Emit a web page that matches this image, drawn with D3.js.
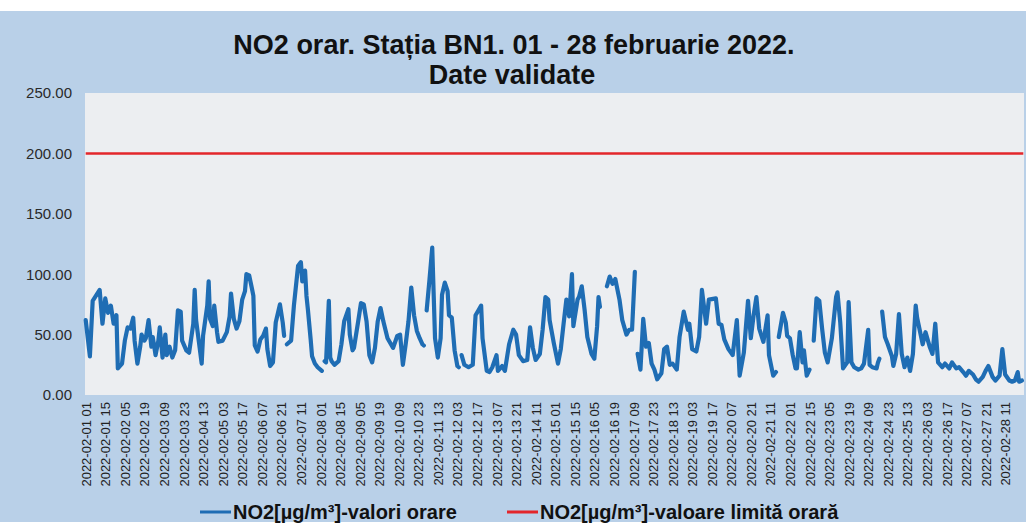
<!DOCTYPE html>
<html>
<head>
<meta charset="utf-8">
<script src="https://cdn.jsdelivr.net/npm/d3@7/dist/d3.min.js"></script>
<style>
  body { margin: 0; background: #ffffff; }
  text { font-family: "Liberation Sans", Arial, sans-serif; }
</style>
</head>
<body>
<div id="chart"></div>
<script>
// hour offsets from 2022-02-01 01:00 and hourly NO2 values (null = missing hour)
var hourIdx = [
  0,3,5,10,12,14,16,18,20,22,23,26,28,30,32,34,35,37,39,40,42,43,45,47,48,50,52,53,55,57,58,60,62,64,66,68,69,72,74,77,78,79,
  81,83,84,87,88,89,91,92,94,95,98,101,103,104,106,108,110,112,114,115,117,119,120,121,123,125,127,129,130,132,134,136,139,141,
  142,143,144,147,149,152,154,155,157,158,159,161,162,164,166,169,170,171,172,174,175,176,178,181,183,185,188,189,191,192,195,
  197,199,201,203,205,207,209,211,213,216,220,223,225,227,229,231,233,235,237,239,241,242,243,244,246,248,250,252,254,255,257,
  259,260,262,264,266,267,268,269,271,274,277,279,281,283,284,287,289,291,294,295,298,300,303,306,308,310,313,316,318,320,322,
  325,327,329,331,332,335,338,340,342,344,346,348,349,352,353,355,357,359,362,364,366,367,368,370,373,375,377,379,382,384,387,
  389,391,393,394,395,397,399,401,403,405,407,409,412,414,416,418,420,423,425,428,431,432,434,437,439,441,444,446,451,453,455,
  457,460,463,466,468,471,474,476,478,480,482,485,488,489,492,494,495,496,499,501,502,504,506,508,509,511,513,514,516,518,519,
  521,523,525,527,529,531,534,537,538,540,542,545,546,548,550,553,555,557,560,561,563,566,567,568,569,570,572,574,577,578,580,
  582,584,586,588,590,592,594,595,597,599,601,604,606,608,610,613,615,618,620,623,625,628,630,632,635,637,639,642,644,646,649,
  651,654,656,658,661,663,665,667,668,670
];
var no2Values = [
  62,32,78,87,59,80,68,74,59,66,22,26,45,56,55,64,45,26,40,50,45,47,62,40,48,33,45,56,31,50,33,40,31,37,70,69,45,37,35,59,87,62,
  44,26,49,74,94,63,57,74,52,44,45,52,65,84,63,55,61,79,86,100,99,88,82,41,36,46,49,55,38,24,27,60,75,60,
  49,null,42,45,74,107,110,94,103,82,71,46,32,26,23,20,null,28,27,78,31,28,25,28,42,61,71,50,37,39,61,
  76,75,61,33,27,39,61,72,61,47,39,49,50,25,42,61,89,66,53,47,42,41,null,70,95,122,47,31,47,83,93,
  86,66,64,37,24,23,null,33,25,23,25,66,70,74,47,20,19,23,33,20,24,20,42,54,50,33,28,29,56,39,29,
  34,54,81,79,62,43,26,38,59,79,65,100,57,79,81,90,71,48,34,30,57,81,73,null,90,98,92,96,79,62,50,
  54,54,102,null,34,21,63,40,43,26,21,13,18,38,40,25,26,21,48,69,54,59,38,36,48,87,59,79,80,59,58,
  46,38,33,62,16,35,78,47,66,81,55,44,66,33,16,19,null,48,68,60,49,47,33,22,22,52,27,37,16,21,null,
  45,80,78,55,35,27,47,81,85,60,22,27,77,27,23,21,22,26,54,25,23,22,27,30,null,69,48,42,32,24,34,
  67,34,23,31,20,34,74,64,53,42,52,40,34,59,27,23,26,22,27,22,23,19,16,20,17,13,11,15,20,24,15,
  12,16,38,17,12,11,12,19,11,12
];
var limitValue = 200;
var yTicks = [0, 50, 100, 150, 200, 250];
var tickLabels = [
  "2022-02-01 01","2022-02-01 15","2022-02-02 05","2022-02-02 19","2022-02-03 09","2022-02-03 23",
  "2022-02-04 13","2022-02-05 03","2022-02-05 17","2022-02-06 07","2022-02-06 21","2022-02-07 11",
  "2022-02-08 01","2022-02-08 15","2022-02-09 05","2022-02-09 19","2022-02-10 09","2022-02-10 23",
  "2022-02-11 13","2022-02-12 03","2022-02-12 17","2022-02-13 07","2022-02-13 21","2022-02-14 11",
  "2022-02-15 01","2022-02-15 15","2022-02-16 05","2022-02-16 19","2022-02-17 09","2022-02-17 23",
  "2022-02-18 13","2022-02-19 03","2022-02-19 17","2022-02-20 07","2022-02-20 21","2022-02-21 11",
  "2022-02-22 01","2022-02-22 15","2022-02-23 05","2022-02-23 19","2022-02-24 09","2022-02-24 23",
  "2022-02-25 13","2022-02-26 03","2022-02-26 17","2022-02-27 07","2022-02-27 21","2022-02-28 11"
];
var tickStep = 14;    // one label every 14 hours
var hourCount = 672;  // 28 days x 24 h
var seriesNames = ["NO2[µg/m³]-valori orare", "NO2[µg/m³]-valoare limită orară"];
var seriesColors = ["#1f6db4", "#e3262b"];

var width = 1026, height = 526;
var plot = {left: 85, right: 1024, top: 93, bottom: 395};

var svg = d3.select("#chart").append("svg")
  .attr("width", width)
  .attr("height", height);

// outer chart background
svg.append("rect")
  .attr("x", 0).attr("y", 11)
  .attr("width", width).attr("height", 511)
  .style("fill", "#b9d0e8");

// plot area
svg.append("rect")
  .attr("x", plot.left).attr("y", plot.top)
  .attr("width", plot.right - plot.left).attr("height", plot.bottom - plot.top)
  .style("fill", "#eceef1");

var x = d3.scaleLinear()
  .domain([-0.5, hourCount - 0.5])
  .range([plot.left, plot.right]);

var y = d3.scaleLinear()
  .domain([0, 250])
  .range([plot.bottom, plot.top]);

// title, two lines
svg.append("text")
  .attr("x", 514).attr("y", 54)
  .attr("text-anchor", "middle")
  .style("font-weight", "bold")
  .style("font-size", "27px")
  .style("fill", "#111")
  .text("NO2 orar. Stația BN1. 01 - 28 februarie 2022.");
svg.append("text")
  .attr("x", 512).attr("y", 84)
  .attr("text-anchor", "middle")
  .style("font-weight", "bold")
  .style("font-size", "27px")
  .style("fill", "#111")
  .text("Date validate");

// y axis
var yAxis = svg.append("g")
  .attr("transform", "translate(" + plot.left + ",0)")
  .call(d3.axisLeft(y).tickValues(yTicks).tickFormat(d3.format(".2f")).tickSize(0).tickPadding(13));
yAxis.select(".domain").remove();
yAxis.selectAll("text")
  .style("font-size", "15px")
  .style("font-family", "'Liberation Sans', Arial, sans-serif")
  .style("fill", "#2a2a2a");

// x axis, rotated category labels
var xAxis = svg.append("g")
  .attr("transform", "translate(0," + plot.bottom + ")")
  .call(d3.axisBottom(x)
    .tickValues(tickLabels.map(function (d, i) { return i * tickStep; }))
    .tickFormat(function (d, i) { return tickLabels[i]; })
    .tickSize(0));
xAxis.select(".domain").remove();
xAxis.selectAll("text")
  .attr("transform", "rotate(-90)")
  .attr("x", -7)
  .attr("y", 0)
  .attr("dy", "0.35em")
  .style("text-anchor", "end")
  .style("font-size", "13px")
  .style("font-family", "'Liberation Sans', Arial, sans-serif")
  .style("fill", "#222");

// limit line
var limitLine = d3.line()
  .x(function (d) { return x(d); })
  .y(function () { return y(limitValue); });
svg.append("path")
  .datum([0, hourCount - 1])
  .attr("d", limitLine)
  .style("fill", "none")
  .style("stroke", seriesColors[1])
  .style("stroke-width", 2.5);

// hourly values
var points = hourIdx.map(function (h, i) { return {h: h, v: no2Values[i]}; });
var valueLine = d3.line()
  .defined(function (d) { return d.v !== null; })
  .x(function (d) { return x(d.h); })
  .y(function (d) { return y(d.v); });
svg.append("path")
  .datum(points)
  .attr("d", valueLine)
  .style("fill", "none")
  .style("stroke", seriesColors[0])
  .style("stroke-width", 4.2)
  .style("stroke-linejoin", "round")
  .style("stroke-linecap", "round");

// legend
var legendX = [200, 507];
var legend = svg.selectAll(".legend")
  .data(seriesNames)
  .enter().append("g")
  .attr("class", "legend")
  .attr("transform", function (d, i) { return "translate(" + legendX[i] + ",512)"; });
legend.append("line")
  .attr("x1", 0).attr("x2", 31)
  .attr("y1", 0).attr("y2", 0)
  .style("stroke", function (d, i) { return seriesColors[i]; })
  .style("stroke-width", 3);
legend.append("text")
  .attr("x", 33)
  .attr("y", 7)
  .style("font-size", "20px")
  .style("font-weight", "bold")
  .style("fill", "#111")
  .text(function (d) { return d; });
</script>
</body>
</html>
